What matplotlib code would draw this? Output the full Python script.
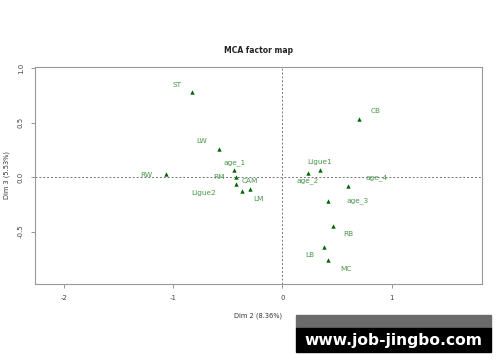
import matplotlib.pyplot as plt
from matplotlib.patches import Rectangle

# MCA coordinates (Dim 2, Dim 3)
labels = ["ST", "LW", "RW", "age_1", "RM", "CAM", "Ligue2", "LM",
          "Ligue1", "age_2", "age_4", "age_3", "RB", "LB", "MC", "CB"]
dim2 = [-0.826, -0.578, -1.067, -0.443, -0.425, -0.425, -0.373, -0.294,
        0.34, 0.235, 0.60, 0.413, 0.459, 0.385, 0.416, 0.70]
dim3 = [0.78, 0.26, 0.028, 0.062, 0.003, -0.067, -0.129, -0.110,
        0.062, 0.04, -0.083, -0.22, -0.45, -0.638, -0.76, 0.534]

xticks = [-2, -1, 0, 1]
yticks = [-0.5, 0.0, 0.5, 1.0]

# label offsets in pixels (repelled labels)
offsets = [(-15, 7), (-18, 8), (-20, -1), (0, 8), (-17, 0), (14, 3), (-38, -2), (8, -10),
           (0, 8), (0, -8), (29, 9), (30, 0), (16, -8), (-15, -8), (18, -9), (17, 8)]

fig = plt.figure(figsize=(5, 3.62), dpi=100)
ax = fig.add_axes([0.07, 0.2155, 0.894, 0.5995])

ax.axhline(0, color="#777777", lw=0.7, ls=(0, (2, 2)))
ax.axvline(0, color="#777777", lw=0.7, ls=(0, (2, 2)))
ax.scatter(dim2, dim3, marker="^", s=10, color="#006400", zorder=3, linewidths=0)

for lab, x, y, off in zip(labels, dim2, dim3, offsets):
    ax.annotate(lab, (x, y), xytext=off, textcoords="offset pixels",
                ha="center", va="center", fontsize=5.3, color="#4a964a")

ax.set_xlim(-2.27, 1.83)
ax.set_ylim(-0.98, 1.01)
ax.set_xticks(xticks)
ax.set_xticklabels([str(t) for t in xticks])
ax.set_yticks(yticks)
ax.set_yticklabels(["%.1f" % t for t in yticks], rotation=90, va="center")
ax.tick_params(labelsize=5, length=3, width=0.6, color="#888888", labelcolor="#444444", pad=5)
for s in ax.spines.values():
    s.set_color("#999999")
    s.set_linewidth(0.8)

ax.set_xlabel("Dim 2 (8.36%)", fontsize=4.8, color="#333333", labelpad=8)
ax.set_ylabel("Dim 3 (5.53%)", fontsize=4.8, color="#333333", labelpad=6)
ax.set_title("MCA factor map", fontsize=5.5, fontweight="bold", color="#222222", pad=10)

# watermark
fig.patches.append(Rectangle((296 / 500, 1 - 328 / 362), 195 / 500, 13 / 362,
                             transform=fig.transFigure, color="#6b6b6b"))
fig.patches.append(Rectangle((296 / 500, 1 - 352 / 362), 195 / 500, 24 / 362,
                             transform=fig.transFigure, color="black"))
fig.text(393.5 / 500, 1 - 340 / 362, "www.job-jingbo.com", color="white",
         fontsize=11.2, fontweight="bold", ha="center", va="center")

fig.savefig("out.png", dpi=100)
